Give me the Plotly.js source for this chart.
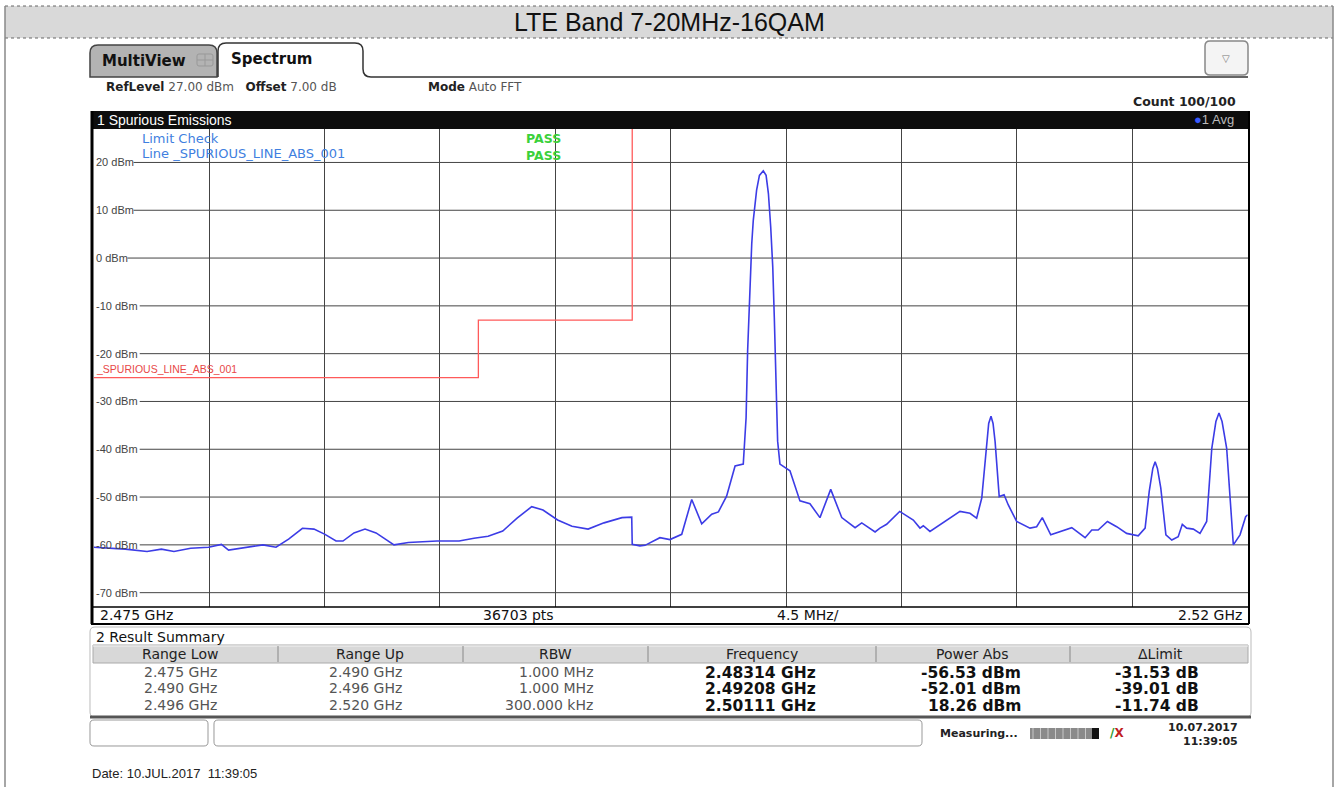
<!DOCTYPE html>
<html>
<head>
<meta charset="utf-8">
<script src="https://cdn.plot.ly/plotly-3.0.1.min.js"></script>
<style>html,body{margin:0;padding:0;background:#fff;}#chart{width:1338px;height:787px;}</style>
</head>
<body>
<div id="chart"></div>
<script>
// ---------------- DATA ----------------
const freqGHz = [
2.47500,2.47623,2.47708,2.47764,2.47813,2.47878,2.47948,2.47998,2.48026,2.48090,
2.48160,2.48211,2.48260,2.48314,2.48359,2.48402,2.48445,2.48472,2.48515,2.48558,
2.48601,2.48671,2.48727,2.48839,2.48925,2.48983,2.49038,2.49095,2.49151,2.49208,
2.49252,2.49309,2.49365,2.49428,2.49490,2.49560,2.49598,2.49600,2.49630,2.49650,
2.49708,2.49747,2.49793,2.49832,2.49871,2.49910,2.49936,2.49968,2.50001,2.50033,
2.50044,2.50050,2.50057,2.50066,2.50072,2.50085,2.50096,2.50111,2.50122,2.50131,
2.50140,2.50148,2.50154,2.50161,2.50167,2.50176,2.50215,2.50254,2.50293,2.50332,
2.50374,2.50417,2.50469,2.50495,2.50547,2.50566,2.50592,2.50643,2.50696,2.50722,
2.50735,2.50761,2.50826,2.50878,2.50917,2.50943,2.50963,2.50982,2.50990,2.50999,
2.51007,2.51015,2.51031,2.51050,2.51066,2.51099,2.51151,2.51177,2.51199,2.51232,
2.51268,2.51314,2.51366,2.51392,2.51417,2.51453,2.51489,2.51528,2.51573,2.51600,
2.51616,2.51630,2.51639,2.51648,2.51661,2.51681,2.51704,2.51729,2.51745,2.51762,
2.51788,2.51814,2.51840,2.51860,2.51876,2.51888,2.51900,2.51918,2.51944,2.51970,
2.51992,2.52000];
const levelDbm = [
-60.5,-60.9,-61.4,-60.9,-61.4,-60.7,-60.5,-59.9,-61.1,-60.5,
-60.0,-60.5,-58.8,-56.53,-56.7,-57.8,-59.2,-59.2,-57.5,-56.7,
-57.5,-60.0,-59.5,-59.2,-59.2,-58.6,-58.2,-57.1,-54.4,-52.01,
-52.7,-54.8,-56.1,-56.7,-55.4,-54.3,-54.2,-59.9,-60.2,-60.1,
-58.5,-58.9,-57.8,-50.5,-55.6,-53.6,-53.1,-49.8,-43.5,-43.1,
-33.4,-19.4,-8.9,3.0,7.9,14.2,17.3,18.26,17.3,13.5,
6.5,-1.9,-12.4,-26.4,-38.3,-43.1,-44.5,-50.8,-51.4,-54.3,
-48.4,-54.3,-56.4,-55.4,-57.3,-56.5,-55.7,-53.0,-54.8,-56.5,
-56.0,-57.2,-54.8,-53.0,-53.4,-54.4,-50.2,-38.4,-34.6,-33.1,
-34.6,-38.4,-49.9,-49.5,-51.6,-55.1,-56.5,-56.2,-54.3,-57.9,
-57.2,-56.4,-58.5,-56.9,-56.9,-55.1,-56.2,-57.6,-58.1,-56.5,
-48.8,-44.0,-42.6,-44.0,-48.1,-57.9,-59.0,-58.3,-55.7,-56.5,
-56.7,-57.6,-55.1,-39.8,-34.2,-32.4,-34.2,-39.8,-60.0,-57.9,
-54.1,-53.7];

const limitFreqGHz = [2.475, 2.490, 2.490, 2.496, 2.496];
const limitDbm     = [-25, -25, -13, -13, 60];

const yTickValues = [20, 10, 0, -10, -20, -30, -40, -50, -60, -70];
const yTickLabels = ["20 dBm","10 dBm","0 dBm","-10 dBm","-20 dBm","-30 dBm","-40 dBm","-50 dBm","-60 dBm","-70 dBm"];

const refLevelDbm = 27, bottomDbm = -73;
const startGHz = 2.475, stopGHz = 2.52, spanPerDivGHz = 0.0045;

const summaryHeaders = ["Range Low","Range Up","RBW","Frequency","Power Abs","\u0394Limit"];
const rangeLow  = ["2.475 GHz","2.490 GHz","2.496 GHz"];
const rangeUp   = ["2.490 GHz","2.496 GHz","2.520 GHz"];
const rbw       = ["1.000 MHz","1.000 MHz","300.000 kHz"];
const peakFreq  = ["2.48314 GHz","2.49208 GHz","2.50111 GHz"];
const powerAbs  = ["-56.53 dBm","-52.01 dBm","18.26 dBm"];
const deltaLim  = ["-31.53 dB","-39.01 dB","-11.74 dB"];

// ---------------- LAYOUT HELPERS ----------------
const W = 1338, H = 787;
const px = x => x / W;
const py = y => 1 - y / H;
const P = (x, y) => px(x).toFixed(5) + ',' + py(y).toFixed(5);

const UI = 'DejaVu Sans, Verdana, sans-serif';
const AR = 'Liberation Sans, Arial, sans-serif';

const shapes = [];
const ann = [];
function rect(x0,y0,x1,y1,fill,lineColor,lw,layer){
  shapes.push({type:'rect',xref:'paper',yref:'paper',x0:px(x0),x1:px(x1),y0:py(y1),y1:py(y0),
    fillcolor:fill||'rgba(0,0,0,0)',line:{color:lineColor||'rgba(0,0,0,0)',width:lw||0},layer:layer||'above'});
}
function line(x0,y0,x1,y1,color,lw,dash,layer){
  shapes.push({type:'line',xref:'paper',yref:'paper',x0:px(x0),x1:px(x1),y0:py(y0),y1:py(y1),
    line:{color:color,width:lw,dash:dash||'solid'},layer:layer||'above'});
}
function path(d,fill,color,lw,layer){
  shapes.push({type:'path',xref:'paper',yref:'paper',path:d,fillcolor:fill||'rgba(0,0,0,0)',
    line:{color:color||'rgba(0,0,0,0)',width:lw||0},layer:layer||'above'});
}
function rrect(x0,y0,x1,y1,r,fill,color,lw){
  const d = 'M'+P(x0+r,y0)+' L'+P(x1-r,y0)+' Q'+P(x1,y0)+' '+P(x1,y0+r)+' L'+P(x1,y1-r)+' Q'+P(x1,y1)+' '+P(x1-r,y1)+
            ' L'+P(x0+r,y1)+' Q'+P(x0,y1)+' '+P(x0,y1-r)+' L'+P(x0,y0+r)+' Q'+P(x0,y0)+' '+P(x0+r,y0)+' Z';
  path(d,fill,color,lw);
}
function text(x,y,t,size,color,family,anchor,extra){
  ann.push(Object.assign({xref:'paper',yref:'paper',x:px(x),y:py(y),text:t,showarrow:false,
    xanchor:anchor||'left',yanchor:'middle',font:{size:size,color:color,family:family||UI},borderpad:1},extra||{}));
}

// Page border & title bar
rect(5,6,1333,38,'#d9d9d9',null,0,'below');
line(5,6,1333,6,'#666',1,'dot');
line(5,38,1333,38,'#666',1,'dot');
line(5,6,5,787,'#888',1.5);
line(1333,6,1333,787,'#888',1.5);
text(669,22,'LTE Band 7-20MHz-16QAM',25,'#111',AR,'center');

// Tabs
path('M'+P(90,77)+' L'+P(90,53)+' Q'+P(90,45)+' '+P(98,45)+' L'+P(209,45)+' Q'+P(217,45)+' '+P(217,53)+' L'+P(217,77)+' Z','#b3b3b3','#444',1.5);
path('M'+P(218,77)+' L'+P(218,51)+' Q'+P(218,43)+' '+P(226,43)+' L'+P(355,43)+' Q'+P(363,43)+' '+P(363,51)+' L'+P(363,69)+' Q'+P(363,77)+' '+P(371,77)+' L'+P(1248,77),'#ffffff','#333',1.5);
text(100,61,'<b>MultiView</b>',15,'#111');
rrect(197,54,213,66,2,'rgba(0,0,0,0)','#999',1);
line(205,54,205,66,'#999',1); line(197,60,213,60,'#999',1);
text(229,59,'<b>Spectrum</b>',15,'#111');
rrect(1205,41,1248,75,5,'#f4f4f4','#888',1.5);
text(1226,58,'\u25BD',10,'#777',UI,'center');

// Info line
text(104,87,'<b>RefLevel</b> <span style="color:#555">27.00 dBm</span>   <b>Offset</b> <span style="color:#555">7.00 dB</span>',12,'#222');
text(426,87,'<b>Mode</b> <span style="color:#555">Auto FFT</span>',12,'#222');
text(1238,102,'<b>Count 100/100</b>',12.5,'#222',UI,'right');

// Plot frame
rect(91,111,1249,129,'#0d0d0d',null,0);
text(95,120,'1 Spurious Emissions',14,'#ffffff',AR);
text(1236,120,'<span style="color:#3a5bff">\u25CF</span>1 Avg',13,'#bbbbbb',AR,'right');
line(92,111,92,624,'#000',3);
line(1249,111,1249,624,'#000',2);
line(91,607,1249,607,'#000',1.5);
line(91,624,1249,624,'#000',2);

// Bottom label row
text(98,615,'2.475 GHz',14,'#111');
text(518,615,'36703 pts',14,'#111',UI,'center');
text(808,615,'4.5 MHz/',14,'#111',UI,'center');
text(1244,615,'2.52 GHz',14,'#111',UI,'right');

// Overlay texts in plot
text(140,138,'Limit Check',13,'#3f7fe0');
text(140,154,'Line _SPURIOUS_LINE_ABS_001',13,'#3f7fe0');
text(524,138,'<b>PASS</b>',12.5,'#3bd13b');
text(524,155,'<b>PASS</b>',12.5,'#3bd13b');
text(94,369,'_SPURIOUS_LINE_ABS_001',10.5,'#e84848',AR);

// y labels and horizontal grid lines
yTickValues.forEach((v,i)=>{
  const lab = yTickLabels[i];
  const x0 = 96 + 6.1*lab.length + 1;
  shapes.push({type:'line',xref:'paper',yref:'y',x0:px(x0),x1:px(1248),y0:v,y1:v,line:{color:'#444',width:1},layer:'below'});
  ann.push({xref:'paper',yref:'y',x:px(95),y:v,text:lab,showarrow:false,xanchor:'left',yanchor:'middle',
    font:{size:11,color:'#444',family:AR},borderpad:0});
});

// Result summary panel
rrect(90,627,1251,717,5,'#ffffff','#bbb',1);
text(94,637,'2 Result Summary',14,'#111');
rect(93,645,1248,663,'#d8d8d8','#aaa',1);
line(93,646,1248,646,'#f2f2f2',1);
[278,463,648,876,1070].forEach(x=>line(x,646,x,662,'#888',1));
const colCenters = [180,370,555,762,972,1160];
summaryHeaders.forEach((h,i)=>text(colCenters[i],654,h,14,'#222',UI,'center'));
const rowY = [672,688,705];
const lightCols = [[rangeLow,218],[rangeUp,403],[rbw,594]];
const boldCols  = [[peakFreq,817],[powerAbs,1022],[deltaLim,1200]];
rowY.forEach((y,r)=>{
  lightCols.forEach(c=>text(c[1],y,c[0][r],14,'#555',UI,'right',{borderpad:0}));
  boldCols.forEach(c=>text(c[1],y+0.5,'<b>'+c[0][r]+'</b>',15.5,'#111',UI,'right',{borderpad:0}));
});
line(90,717,1251,717,'#555',3);

// Status bar
rrect(90,720,208,746,4,'#ffffff','#999',1);
rrect(214,720,922,746,4,'#ffffff','#999',1);
text(938,733,'<b>Measuring...</b>',11,'#222');
rect(1030,728,1092,739,'#8a8a8a',null,0);
for(let k=0;k<8;k++){ line(1033+k*7.5,728,1033+k*7.5,739,'#c8c8c8',1); }
rect(1092,728,1099,739,'#111',null,0);
text(1108,733,'<b><span style="color:#2a9a2a">/</span><span style="color:#c02020">X</span></b>',12,'#c02020');
text(1240,727,'<b>10.07.2017</b>',11,'#222',UI,'right');
text(1240,741,'<b>11:39:05</b>',11,'#222',UI,'right');

// Footer date
text(90,773,'Date: 10.JUL.2017  11:39:05',13,'#222',AR);

// ---------------- TRACES ----------------
const traces = [
  {x: limitFreqGHz, y: limitDbm, type:'scatter', mode:'lines', line:{color:'#ff5a5a', width:1.3}, hoverinfo:'skip', cliponaxis:true},
  {x: freqGHz, y: levelDbm, type:'scatter', mode:'lines', line:{color:'#3c3ce6', width:1.6}, hoverinfo:'skip'}
];

const layout = {
  width: W, height: H,
  margin:{l:0,r:0,t:0,b:0},
  paper_bgcolor:'#ffffff', plot_bgcolor:'#ffffff',
  showlegend:false,
  xaxis:{domain:[px(93.7), px(1247.7)], range:[startGHz, stopGHz], tick0:startGHz, dtick:spanPerDivGHz,
         showgrid:true, gridcolor:'#444', gridwidth:1, zeroline:false, showticklabels:false, showline:false, ticks:''},
  yaxis:{domain:[py(607), py(129)], range:[bottomDbm, refLevelDbm], showgrid:false,
         zeroline:false, showticklabels:false, showline:false, ticks:''},
  shapes: shapes,
  annotations: ann
};

Plotly.newPlot('chart', traces, layout, {staticPlot:true, displayModeBar:false});
</script>
</body>
</html>
